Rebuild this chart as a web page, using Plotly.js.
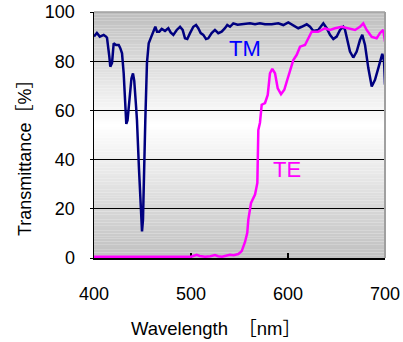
<!DOCTYPE html>
<html><head><meta charset="utf-8">
<script src="https://cdn.plot.ly/plotly-3.0.1.min.js"></script>
<style>html,body{margin:0;padding:0;background:#fff;}</style>
</head><body><div id="chart" style="width:403px;height:342px;"></div>
<script>
const tmWavelength = [400,401,403,406,410,412.4,413.4,415.8,416.8,418.6,420.3,422.7,425.5,427.1,428.9,430.6,432.3,433.3,434.6,436.6,438.6,440.2,441.5,443.3,444.3,446.4,448.8,449.5,450.5,451.5,452.9,454.6,456.4,459.1,461.5,463.2,465,467.3,469.8,473.2,476.6,479,481.8,485.3,488.7,491.4,493.8,496.2,499,502.4,505.2,507.5,510,512.7,515.5,517.8,521.3,524.7,528.1,531.6,535,537.4,540.2,543.6,548,554,560.8,566,571,576.3,583.2,590,595.2,600.3,605.5,610.6,614.1,619.3,622.7,626.1,631.2,636.4,639.9,643.3,646.7,650.2,653.6,657,658.8,660.5,663.9,667.3,670.8,674.2,676.6,679.4,682.8,686.3,689.7,693.1,697.2,699,700];
const tmTransmittance = [90,90.5,91.5,90,90.7,90,89.5,81.9,77.8,79.3,87.3,86.6,86.6,85.3,83.2,75.1,64.3,54.5,56,66,73,75,72,62,56,36,13.6,10.8,15.6,36,56,79.3,87.3,90,92.7,94,92,92,93.1,92.3,93.4,91.7,90.7,92.7,94,92.7,89.3,89,91.4,94,94.7,93.4,91.4,90.7,89,89.3,91.4,92.7,91.4,92,93.4,94.7,94,95.4,94.8,95.1,95.4,95,95.4,95,95,95.4,94.7,95.8,94.7,93.4,94,95,94,92.3,92.7,95.4,93.4,90.7,89,90,92.7,94,92.7,89.3,83.9,81.5,83.9,88.6,90.7,86.6,77.2,69.7,72.4,77.2,83,80,70.4];
const teWavelength = [400,500,503,505.9,509,514.4,520,524.7,528,532,536,540.2,544,548.8,552.3,555.7,558,559.1,561.9,564,566,568.4,569.4,571.1,572.9,576.3,579.1,581.4,583.8,586.6,589.4,592.8,596.2,598.7,602.1,605.5,609,612.4,617.5,620.9,624.4,631.2,638.1,643.3,648.5,655.4,660.5,665,669.1,674.2,677.6,681.1,686.3,691.4,694.8,698.2,700];
const teTransmittance = [0.5,0.5,0.9,1.3,0.8,0.5,0.7,1.2,0.7,0.5,0.9,1.3,1.1,1.6,2.8,6.5,10.2,15.6,22.4,24.5,25.8,30.5,52,55,62.3,63,66.3,75.1,76.9,75.1,69,66.6,68.4,71.7,75.8,80.5,82.6,85.9,86.6,89.3,92,92,93.4,92.7,93.4,94,93.4,93,92.7,94,95.4,92.7,89.9,89.3,91.4,92.7,88];
const xTickValues = [400,500,600,700];
const yTickValues = [0,20,40,60,80,100];
const seriesLabels = ['TM','TE'];

// vertical gray-white-gray background
const shapes = [];
const N = 90, fw = 0.54;
for (let i = 0; i < N; i++) {
  const f = (i + 0.5) / N;
  const g = Math.round(f < fw ? 192 + 63 * (f / fw) : 190 + 65 * ((1 - f) / (1 - fw)));
  shapes.push({type:'rect', xref:'paper', yref:'paper', x0:0, x1:1, y0:i/N, y1:(i+1)/N,
    fillcolor:`rgb(${g},${g},${g})`, line:{width:0}, layer:'below'});
}
shapes.push({type:'line', xref:'paper', yref:'paper', x0:0, x1:1, y0:1, y1:1, line:{color:'#a0a0a0', width:1.5}, layer:'above'});
shapes.push({type:'line', xref:'paper', yref:'paper', x0:1, x1:1, y0:0, y1:1, line:{color:'#a0a0a0', width:2}, layer:'above'});

const font = 'Liberation Sans, Arial, Noto Sans CJK JP, sans-serif';
const traces = [
  {x: tmWavelength, y: tmTransmittance, type:'scatter', mode:'lines', name: seriesLabels[0],
   line:{color:'#000080', width:2.5}},
  {x: teWavelength, y: teTransmittance, type:'scatter', mode:'lines', name: seriesLabels[1],
   line:{color:'#ff00ff', width:2.5}}
];
const layout = {
  width:403, height:342,
  margin:{l:94, r:18, t:12, b:84},
  paper_bgcolor:'#ffffff', plot_bgcolor:'rgba(0,0,0,0)',
  showlegend:false,
  font:{family:font, color:'#000', size:18},
  xaxis:{range:[400,700], tickvals:xTickValues, ticktext:xTickValues.map(String),
    ticks:'inside', ticklen:5, tickcolor:'#000', tickwidth:1.5,
    showline:true, linecolor:'#000', linewidth:1.5, showgrid:false, zeroline:false,
    tickfont:{size:18, family:font}, ticklabelstandoff:19, layer:'below traces'},
  yaxis:{range:[0,100], tickvals:yTickValues, ticktext:yTickValues.map(String),
    ticks:'outside', ticklen:3, tickcolor:'#000',
    showline:true, linecolor:'#000', linewidth:1.5, showgrid:true, gridcolor:'#000', gridwidth:1,
    zeroline:false, tickfont:{size:18, family:font}, ticklabelstandoff:11, layer:'below traces'},
  shapes: shapes,
  annotations:[
    {x:555.2, y:85.2, xref:'x', yref:'y', text:seriesLabels[0], showarrow:false,
     font:{family:'Liberation Sans Narrow, Arial Narrow, Liberation Sans, sans-serif', size:22, color:'#0000ff'}},
    {x:598.5, y:35.9, xref:'x', yref:'y', text:seriesLabels[1], showarrow:false,
     font:{family:'Liberation Sans Narrow, Arial Narrow, Liberation Sans, sans-serif', size:22, color:'#ff00ff'}},
    {x:0.419, y:-0.285, xref:'paper', yref:'paper', text:'Wavelength\u00a0 ［nm］', showarrow:false,
     xanchor:'center', yanchor:'middle', font:{family:font, size:18.5, color:'#000'}},
    {x:-0.237, y:0.423, xref:'paper', yref:'paper', text:'Transmittance［%］', showarrow:false,
     textangle:-90, xanchor:'center', yanchor:'middle', font:{family:font, size:18, color:'#000'}}
  ]
};
Plotly.newPlot('chart', traces, layout, {staticPlot:true, displayModeBar:false});
</script>
</body></html>
